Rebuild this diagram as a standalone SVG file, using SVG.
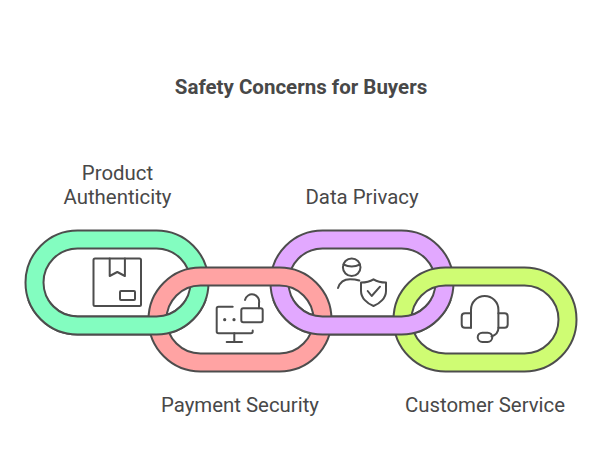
<svg xmlns="http://www.w3.org/2000/svg" width="602" height="467" viewBox="0 0 602 467">
  <style>
    text { font-family: Roboto, "Liberation Sans", sans-serif; fill: #484848; }
    .title { font-size: 20.5px; font-weight: 700; text-anchor: middle; }
    .label { font-size: 20.4px; text-anchor: middle; }
    .link { stroke: #4d4d4d; stroke-width: 2; fill-rule: evenodd; stroke-linejoin: round; }
    .icon { fill: none; stroke: #4d4d4d; stroke-width: 2; stroke-linecap: round; stroke-linejoin: round; }
    .dot { fill: #4d4d4d; stroke: none; }
  </style>
  <defs>
    <!-- one chain link: outer outline and hole, 183 wide by 104 high -->
    <path id="link-shape" d="M52 0H131A52 52 0 0 1 131 104H52A52 52 0 0 1 52 0ZM52 18A34 34 0 0 0 52 86H131A34 34 0 0 0 131 18Z"/>
    <!-- lower half of a top-row link, which passes in front of its neighbours -->
    <clipPath id="lower-row"><rect x="0" y="300" width="602" height="60"/></clipPath>
  </defs>
  <rect width="602" height="467" fill="#ffffff"/>
  <text class="title" x="301" y="94">Safety Concerns for Buyers</text>

  <g id="node-product-authenticity">
    <use href="#link-shape" class="link" x="25.5" y="230.5" fill="#83fdc0"/>
    <g class="icon">
      <rect x="93.5" y="258.5" width="47.5" height="47.5" rx="1.5"/>
      <path d="M109.7 258.5V276l7.6-4 7.6 4V258.5"/>
      <rect x="120" y="291" width="15" height="9" rx="1"/>
    </g>
    <text class="label" x="117.5" y="179.5">Product</text>
    <text class="label" x="117.5" y="203.5">Authenticity</text>
  </g>

  <g id="node-data-privacy">
    <use href="#link-shape" class="link" x="270.5" y="230.5" fill="#e2a8ff"/>
    <g class="icon">
      <circle cx="351.7" cy="267.3" r="8.8"/>
      <path d="M343.5 264.5Q351.7 268.5 360 264.5"/>
      <path d="M338 288C340 282 345 279.3 350 279.3Q355 279.3 359.3 280.5"/>
      <path d="M373.5 279.3C377 281.5 381 282.5 386 282.5V291C386 298 380 303.5 373.5 306C367 303.5 361 298 361 291V282.5C366 282.5 370 281.5 373.5 279.3Z"/>
      <path d="M367.7 291L371.7 296L380 286.7"/>
    </g>
    <text class="label" x="362" y="203.5">Data Privacy</text>
  </g>

  <g id="node-payment-security">
    <use href="#link-shape" class="link" x="148.5" y="267.5" fill="#ffa3a3"/>
    <g class="icon">
      <path d="M232.7 306.7H218.5Q216.7 306.7 216.7 308.5V331.5Q216.7 333.3 218.5 333.3H251Q252.7 333.3 252.7 331.5V330.5"/>
      <path d="M234.3 333.3V342M226.7 342H242"/>
      <rect x="241.3" y="308.3" width="21.4" height="14" rx="2"/>
      <path d="M245 300A7 7 0 0 1 259 303V308.3"/>
    </g>
    <circle class="dot" cx="224.7" cy="319.7" r="1.6"/>
    <circle class="dot" cx="234" cy="319.7" r="1.6"/>
    <text class="label" x="240" y="411.5">Payment Security</text>
  </g>

  <g id="node-customer-service">
    <use href="#link-shape" class="link" x="393.5" y="267.5" fill="#cffc73"/>
    <g class="icon">
      <path d="M471 327.7V309.7A13.7 13.7 0 0 1 498.4 309.7V328Q498.4 334 491.5 336.5"/>
      <path d="M471 313.3H465Q461.7 313.3 461.7 316.5V324.5Q461.7 327.7 465 327.7H471"/>
      <path d="M498.4 313.3H504.5Q507.7 313.3 507.7 316.5V324.5Q507.7 327.7 504.5 327.7H498.4"/>
      <rect x="477.7" y="332.7" width="14.6" height="9.3" rx="4.65"/>
    </g>
    <text class="label" x="485" y="411.5">Customer Service</text>
  </g>

  <!-- top-row links cross back over the bottom-row links here -->
  <g id="link-crossings" clip-path="url(#lower-row)">
    <use href="#link-shape" class="link" x="25.5" y="230.5" fill="#83fdc0"/>
    <use href="#link-shape" class="link" x="270.5" y="230.5" fill="#e2a8ff"/>
  </g>
</svg>
